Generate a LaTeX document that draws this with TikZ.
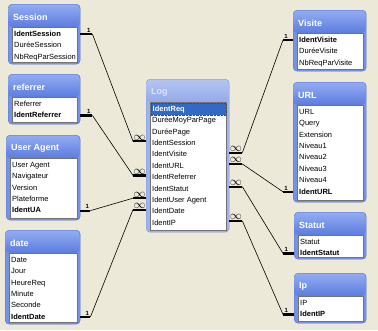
\documentclass[tikz,border=0pt]{standalone}
\usepackage{fontspec}
\setmainfont{Liberation Sans}
\usetikzlibrary{calc}
\definecolor{desk}{RGB}{236,233,216}
\definecolor{aframe}{RGB}{118,146,230}
\definecolor{aedge}{RGB}{84,112,210}
\definecolor{atop}{RGB}{146,172,242}
\definecolor{abot}{RGB}{92,124,222}
\definecolor{atxt}{RGB}{255,255,255}
\definecolor{iframe}{RGB}{160,178,236}
\definecolor{iedge}{RGB}{128,148,224}
\definecolor{itop}{RGB}{180,196,242}
\definecolor{ibot}{RGB}{150,170,232}
\definecolor{itxt}{RGB}{222,228,246}
\definecolor{selblue}{RGB}{49,106,197}
\newcommand{\rowfont}{\fontsize{7.5}{9}\selectfont}
\tikzset{
  tblframe/.style={fill=#1frame, draw=#1edge, rounded corners=4pt, inner sep=0pt},
  titlebar/.style={top color=#1top, bottom color=#1bot, rounded corners=4pt},
  titletxt/.style={text=#1txt, font=\fontsize{9}{10}\selectfont\bfseries, inner sep=1pt, anchor=west},
  listbox/.style ={fill=white, draw=black!55, inner sep=0pt, line width=0.6pt},
  rowtxt/.style  ={font=\rowfont, anchor=west, inner sep=1pt, text height=6pt, text depth=1.5pt},
  selrow/.style  ={rowtxt, fill=selblue, text=white, font=\rowfont\bfseries, draw=black!70,
                   densely dotted, text width=71pt, inner sep=2pt},
  keyline/.style ={line width=2.2pt},
  relline/.style ={line width=0.6pt},
  onelbl/.style  ={above, pos=0.7, inner sep=0.6pt, font=\fontsize{6}{6}\selectfont\bfseries},
  manylbl/.style ={above, pos=0.5, inner sep=0pt, font=\fontsize{12}{12}\selectfont}
}
% [colour prefix]{name}{title}{x left}{y top}{x right}{y bottom}{fields}
\newcommand{\dbtab}[8][a]{%
  \node[tblframe=#1, minimum width={(#6-#4)*1pt}, minimum height={(#7-#5)*1pt},
        anchor=north west] (#2) at (#4,#5) {};
  \shade[titlebar=#1] ({#4+0.5},{#5+0.5}) rectangle ({#6-0.5},{#5+23});
  \node[titletxt=#1] (#2-t) at ({#4+4},{#5+13}) {#3};
  \node[listbox, minimum width={(#6-#4-7)*1pt}, minimum height={(#7-#5-25)*1pt},
        anchor=north west] (#2-list) at ({#4+4},{#5+23}) {};
  \foreach \r [count=\i] in {#8}
    \node[rowtxt] (#2-\i) at ({#4+5},{#5+30+11.4*(\i-1)}) {\r};
}

\begin{document}
\begin{tikzpicture}[x=1pt, y=-1pt]
  \fill[desk] (0,0) rectangle (378,330);
  \useasboundingbox (0,0) rectangle (378,330);

  % left column
  \dbtab{sess}{Session}{8}{4}{80}{64}{{\bfseries IdentSession},DuréeSession,NbReqParSession}
  \dbtab{ref}{referrer}{8}{74}{80}{124}{Referrer,{\bfseries IdentReferrer}}
  \dbtab{ua}{User Agent}{6}{135}{80}{220}{User Agent,Navigateur,Version,Plateforme,{\bfseries IdentUA}}
  \dbtab{date}{date}{5}{230}{80}{324}{Date,Jour,HeureReq,Minute,Seconde,{\bfseries IdentDate}}

  % fact table (first row is the selected one)
  \dbtab[i]{log}{Log}{146}{79}{229}{232}{{},DuréeMoyParPage,DuréePage,IdentSession,IdentVisite,
    IdentURL,IdentReferrer,IdentStatut,IdentUser Agent,IdentDate,IdentIP}
  \node[selrow] (sel) at ($(log-1.west)+(-0.5,0)$) {IdentReq};

  % right column
  \dbtab{vis}{Visite}{293}{10}{366}{71}{{\bfseries IdentVisite},DuréeVisite,NbReqParVisite}
  \dbtab{url}{URL}{293}{82}{366}{202}{URL,Query,Extension,Niveau1,Niveau2,Niveau3,Niveau4,{\bfseries IdentURL}}
  \dbtab{stat}{Statut}{294}{212}{366}{259}{Statut,{\bfseries IdentStatut}}
  \dbtab{ip}{Ip}{294}{273}{366}{323}{IP,{\bfseries IdentIP}}

  % joins, "1" side
  \draw[keyline](sess-1 -| sess.east) -- ++(12,0) node[onelbl]{1} coordinate (j-sess);
  \draw[keyline](ref-2 -| ref.east) -- ++(12,0) node[onelbl]{1} coordinate (j-ref);
  \draw[keyline](ua-5 -| ua.east) -- ++(10,0) node[onelbl]{1} coordinate (j-ua);
  \draw[keyline](date-6 -| date.east) -- ++(10,0) node[onelbl]{1} coordinate (j-date);
  \draw[keyline](vis-1 -| vis.west) -- ++(-10,0) node[onelbl]{1} coordinate (j-vis);
  \draw[keyline](url-8 -| url.west) -- ++(-10,0) node[onelbl]{1} coordinate (j-url);
  \draw[keyline](stat-2 -| stat.west) -- ++(-11,0) node[onelbl]{1} coordinate (j-stat);
  \draw[keyline](ip-2 -| ip.west) -- ++(-11,0) node[onelbl]{1} coordinate (j-ip);

  % joins, many side
  \draw[keyline]($(log-4 -| log.west)+(0,-2)$) -- ++(-13,0) node[manylbl]{$\infty$} coordinate (m-sess);
  \draw[keyline]($(log-7 -| log.west)+(0,-2)$) -- ++(-13,0) node[manylbl]{$\infty$} coordinate (m-ref);
  \draw[keyline]($(log-9 -| log.west)+(0,-2)$) -- ++(-13,0) node[manylbl]{$\infty$} coordinate (m-ua);
  \draw[keyline]($(log-10 -| log.west)+(0,-2)$) -- ++(-13,0) node[manylbl]{$\infty$} coordinate (m-date);
  \draw[keyline]($(log-5 -| log.east)+(0,-2)$) -- ++(13,0) node[manylbl]{$\infty$} coordinate (m-vis);
  \draw[keyline]($(log-6 -| log.east)+(0,-2)$) -- ++(13,0) node[manylbl]{$\infty$} coordinate (m-url);
  \draw[keyline]($(log-8 -| log.east)+(0,-2)$) -- ++(13,0) node[manylbl]{$\infty$} coordinate (m-stat);
  \draw[keyline]($(log-11 -| log.east)+(0,-2)$) -- ++(13,0) node[manylbl]{$\infty$} coordinate (m-ip);

  \draw[relline](j-sess)--(m-sess); \draw[relline](j-ref)--(m-ref);
  \draw[relline](j-ua)--(m-ua);     \draw[relline](j-date)--(m-date);
  \draw[relline](m-vis)--(j-vis);   \draw[relline](m-url)--(j-url);
  \draw[relline](m-stat)--(j-stat); \draw[relline](m-ip)--(j-ip);
\end{tikzpicture}
\end{document}
